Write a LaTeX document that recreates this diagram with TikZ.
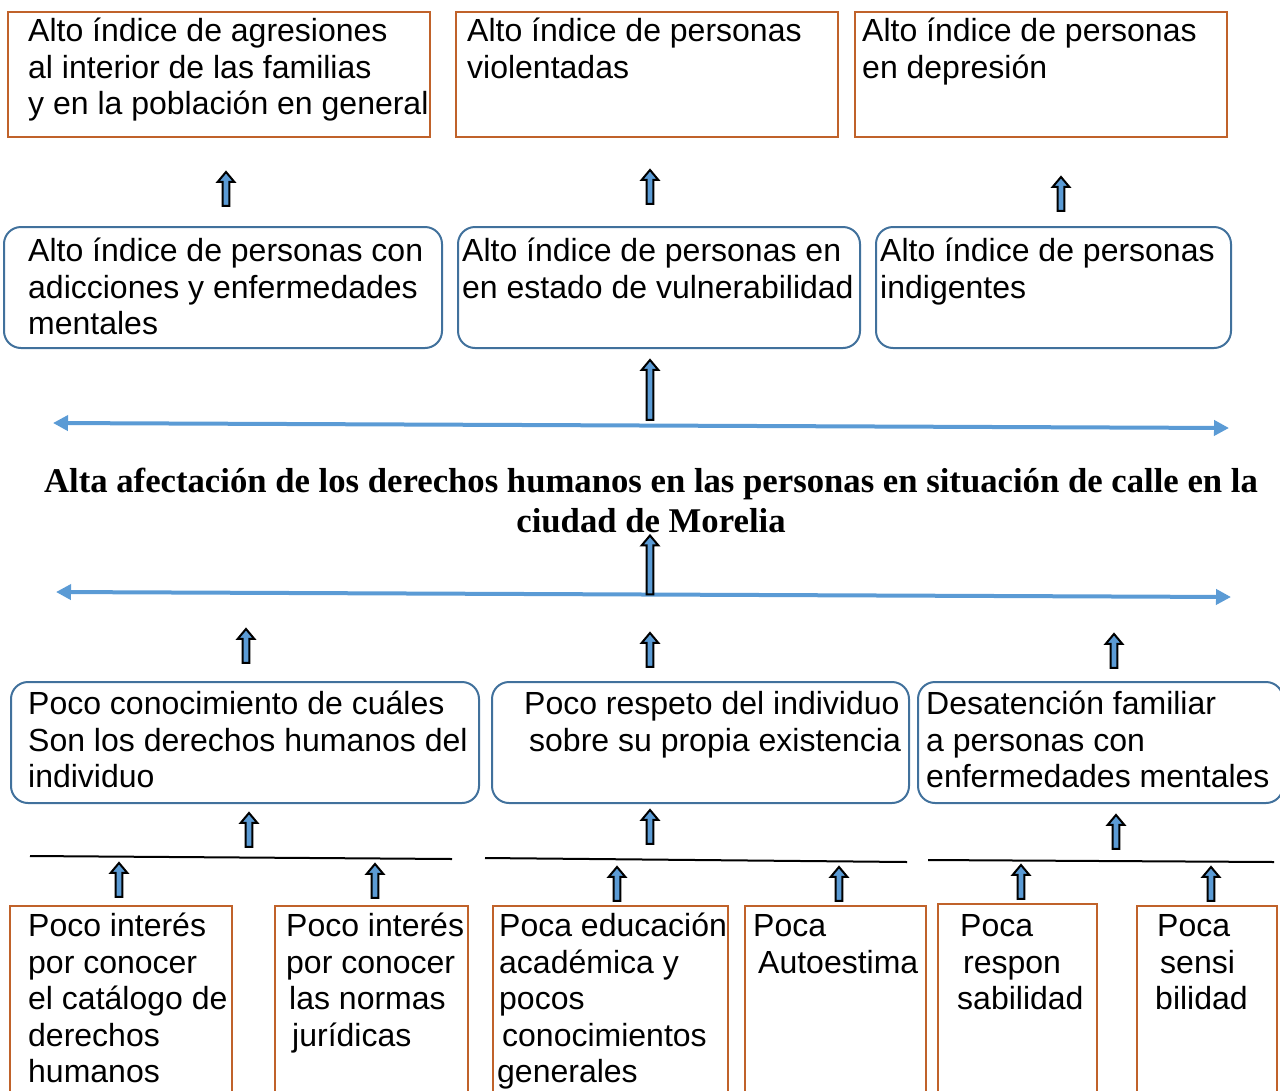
\documentclass[tikz,border=0pt]{standalone}
\usepackage{fontspec}
\setmainfont{Liberation Sans}
\newfontfamily\titlefont{Liberation Serif}
\usetikzlibrary{shapes.arrows,arrows.meta}
\definecolor{boxbrown}{RGB}{192,98,42}
\definecolor{boxblue}{RGB}{65,113,156}
\definecolor{lineblue}{RGB}{91,155,213}
\tikzset{
  brownbox/.style={draw=boxbrown, line width=2.4pt, inner sep=0pt, fill=none},
  bluebox/.style={draw=boxblue, line width=2pt, rounded corners=17pt, inner sep=0pt},
  txt/.style={anchor=north west, inner sep=0pt, align=left,
    font=\fontsize{32}{36.5}\selectfont},
  uparrow/.style={single arrow, shape border rotate=90, draw=black, fill=lineblue,
    line width=2pt, inner sep=2.4pt, minimum width=15pt,
    single arrow head extend=5pt, single arrow tip angle=80},
  bluearrow/.style={draw=lineblue, line width=4pt,
    {Triangle[length=15pt,width=15pt]}-{Triangle[length=15pt,width=15pt]}},
  rule/.style={draw=black, line width=2pt}
}
\newcommand{\bx}[6]{% style, name, x1, y1, x2, y2
  \node[#1, minimum width={#5-#3}, minimum height={#6-#4}] (#2) at ({(#3+#5)/2},{(#4+#6)/2}) {};}
\begin{document}
\begin{tikzpicture}[x=1pt,y=-1pt]
\useasboundingbox (0,0) rectangle (1280,1090);
% ---- top row (effects)
\bx{brownbox}{e1}{8}{12}{430}{137}
\bx{brownbox}{e2}{456}{12}{838}{137}
\bx{brownbox}{e3}{855}{12}{1227}{137}
\node[txt] (te1) at (28,16) {\strut Alto índice de agresiones\\al interior de las familias\\y en la población en general};
\node[txt] (te2) at (467,16) {\strut Alto índice de personas\\violentadas};
\node[txt] (te3) at (862,16) {\strut Alto índice de personas\\en depresión};
% arrows
\node[uparrow, minimum height=34pt] (a1) at (226,191) {};
\node[uparrow, minimum height=34pt] (a2) at (650,189) {};
\node[uparrow, minimum height=34pt] (a3) at (1061,196) {};
% ---- second row
\bx{bluebox}{f1}{4}{227}{442}{348}
\bx{bluebox}{f2}{458}{227}{860}{348}
\bx{bluebox}{f3}{876}{227}{1231}{348}
\node[txt] (tf1) at (28,236) {\strut Alto índice de personas con\\adicciones y enfermedades\\mentales};
\node[txt] (tf2) at (462,236) {\strut Alto índice de personas en\\en estado de vulnerabilidad};
\node[txt] (tf3) at (880,236) {\strut Alto índice de personas\\indigentes};
\node[uparrow, minimum height=60pt] (a4) at (650,392) {};
% ---- blue lines and title
\coordinate (l1a) at (53,423); \coordinate (l1b) at (1229,428);
\draw[bluearrow] (l1a) -- (l1b);
\node[inner sep=0pt, align=center, font=\titlefont\bfseries\fontsize{34.7}{40}\selectfont] (title) at (651,500)
  {Alta afectación de los derechos humanos en las personas en situación de calle en la\\ciudad de Morelia};
\coordinate (l2a) at (56,592); \coordinate (l2b) at (1231,597);
\draw[bluearrow] (l2a) -- (l2b);
\node[uparrow, minimum height=59pt] (a5) at (650,567) {};
% arrows
\node[uparrow, minimum height=34pt] (a6) at (246,648) {};
\node[uparrow, minimum height=34pt] (a7) at (650,652) {};
\node[uparrow, minimum height=34pt] (a8) at (1114,653) {};
% ---- third row (causes)
\bx{bluebox}{c1}{11}{682}{479}{803}
\bx{bluebox}{c2}{492}{682}{909}{803}
\bx{bluebox}{c3}{918}{682}{1283}{803}
\node[txt] (tc1) at (28,689) {\strut Poco conocimiento de cuáles\\Son los derechos humanos del\\individuo};
\node[txt] (tc2) at (524,689) {\strut Poco respeto del individuo\\\hspace*{5pt}sobre su propia existencia};
\node[txt] (tc3) at (926,689) {\strut Desatención familiar\\a personas con\\enfermedades mentales};
\node[uparrow, minimum height=34pt] (a9) at (249,832) {};
\node[uparrow, minimum height=34pt] (a10) at (650,829) {};
\node[uparrow, minimum height=34pt] (a11) at (1116,834) {};
% rules
\coordinate (r1a) at (30,856); \coordinate (r1b) at (452,859);
\coordinate (r2a) at (485,858); \coordinate (r2b) at (907,862);
\coordinate (r3a) at (928,860); \coordinate (r3b) at (1274,862);
\draw[rule] (r1a) -- (r1b);
\draw[rule] (r2a) -- (r2b);
\draw[rule] (r3a) -- (r3b);
\node[uparrow, minimum height=34pt] (a12) at (119,882) {};
\node[uparrow, minimum height=34pt] (a13) at (375,883) {};
\node[uparrow, minimum height=34pt] (a14) at (617,886) {};
\node[uparrow, minimum height=34pt] (a15) at (839,886) {};
\node[uparrow, minimum height=34pt] (a16) at (1021,884) {};
\node[uparrow, minimum height=34pt] (a17) at (1211,886) {};
% ---- bottom row (root causes)
\bx{brownbox}{g1}{10}{906}{232}{1110}
\bx{brownbox}{g2}{275}{906}{468}{1110}
\bx{brownbox}{g3}{493}{906}{728}{1110}
\bx{brownbox}{g4}{745}{906}{926}{1110}
\bx{brownbox}{g5}{938}{904}{1097}{1110}
\bx{brownbox}{g6}{1137}{906}{1277}{1110}
\node[txt] (tg1) at (28,911) {\strut Poco interés\\por conocer\\el catálogo de\\derechos\\humanos};
\node[txt] (tg2) at (286,911) {\strut Poco interés\\por conocer\\\hspace*{3pt}las normas\\\hspace*{6pt}jurídicas};
\node[txt] (tg3) at (497,911) {\strut \hspace*{2pt}Poca educación\\\hspace*{2pt}académica y\\\hspace*{2pt}pocos\\\hspace*{5pt}conocimientos\\generales};
\node[txt] (tg4) at (753,911) {\strut Poca\\\hspace*{5pt}Autoestima};
\node[txt] (tg5) at (957,911) {\strut \hspace*{3pt}Poca\\\hspace*{6pt}respon\\sabilidad};
\node[txt] (tg6) at (1155,911) {\strut \hspace*{2pt}Poca\\\hspace*{5pt}sensi\\bilidad};
\end{tikzpicture}
\end{document}
